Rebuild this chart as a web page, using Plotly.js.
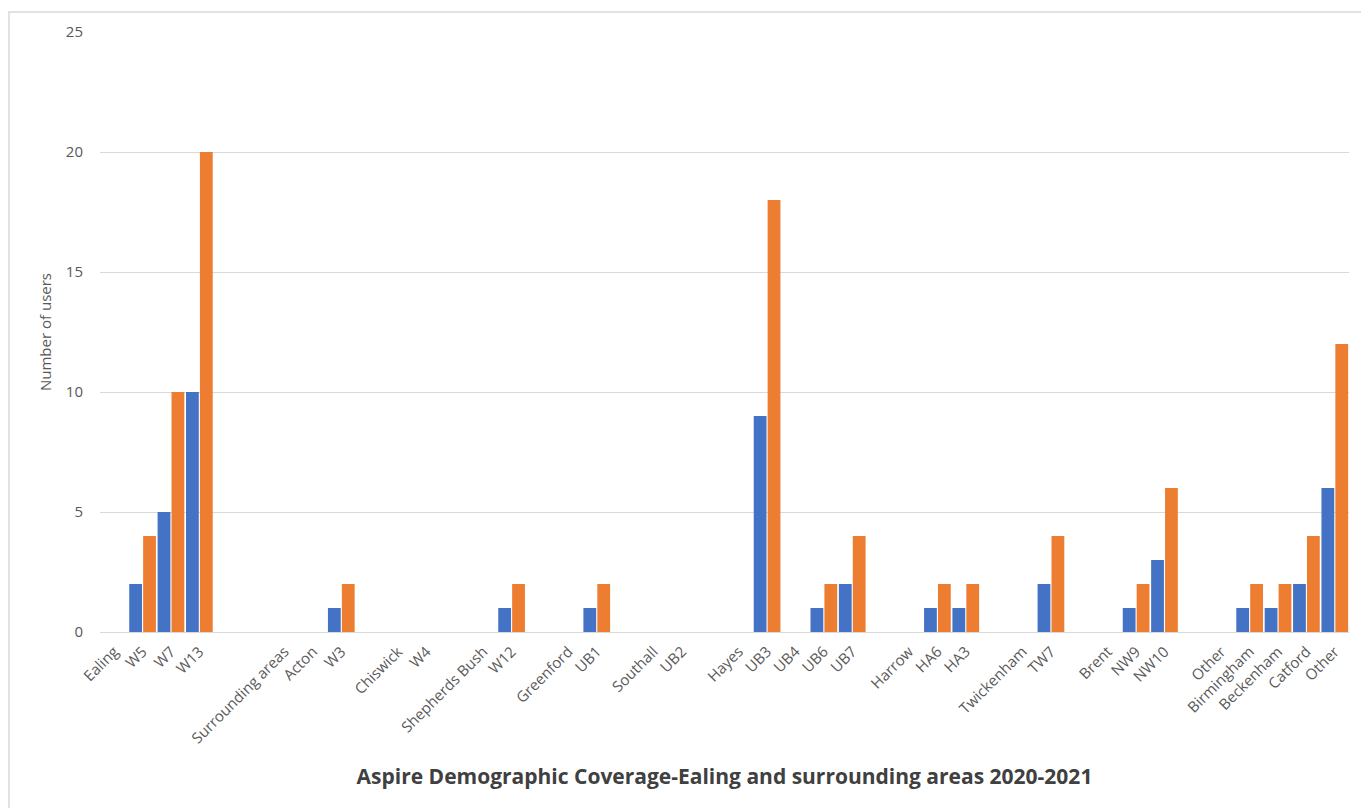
<!DOCTYPE html>
<html>
<head>
<meta charset="utf-8">
<script src="https://cdn.plot.ly/plotly-3.0.1.min.js"></script>
<style>
  html, body { margin: 0; padding: 0; background: #ffffff; }
  #chart { width: 1361px; height: 808px; }
</style>
</head>
<body>
<div id="chart"></div>
<script>
// Category labels (empty strings are blank rows in the source table)
const categories = [
  "Ealing", "W5", "W7", "W13", "", "",
  "Surrounding areas", "Acton", "W3", "",
  "Chiswick", "W4", "",
  "Shepherds Bush", "W12", "",
  "Greenford", "UB1", "",
  "Southall", "UB2", "",
  "Hayes", "UB3", "UB4", "UB6", "UB7", "",
  "Harrow", "HA6", "HA3", "",
  "Twickenham", "TW7", "",
  "Brent", "NW9", "NW10", "",
  "Other", "Birmingham", "Beckenham", "Catford", "Other"
];

// Series 1 (blue)
const series1 = [
  null, 2, 5, 10, null, null,
  null, 0, 1, null,
  0, 0, null,
  0, 1, null,
  0, 1, null,
  0, 0, null,
  0, 9, 0, 1, 2, null,
  0, 1, 1, null,
  0, 2, null,
  0, 1, 3, null,
  0, 1, 1, 2, 6
];

// Series 2 (orange)
const series2 = [
  null, 4, 10, 20, null, null,
  null, 0, 2, null,
  0, 0, null,
  0, 2, null,
  0, 2, null,
  0, 0, null,
  0, 18, 0, 2, 4, null,
  0, 2, 2, null,
  0, 4, null,
  0, 2, 6, null,
  0, 2, 2, 4, 12
];

const yTicks = [0, 5, 10, 15, 20, 25];

// unique keys so blank rows and the repeated "Other" stay separate categories
const keys = categories.map((c, i) => i + "|" + c);

const font = "'Open Sans', 'Liberation Sans', sans-serif";

const traces = [
  {
    type: "bar", name: "Series1", x: keys, y: series1,
    marker: { color: "#4472C4" }, hoverinfo: "y"
  },
  {
    type: "bar", name: "Series2", x: keys, y: series2,
    marker: { color: "#ED7D31" }, hoverinfo: "y"
  }
];

const layout = {
  width: 1361, height: 808,
  margin: { l: 100, r: 12, t: 32, b: 176 },
  paper_bgcolor: "#ffffff",
  plot_bgcolor: "#ffffff",
  showlegend: false,
  barmode: "group",
  bargap: 0.02,
  bargroupgap: 0.08,
  font: { family: font, color: "#595959", size: 15 },
  xaxis: {
    type: "category",
    categoryorder: "array",
    categoryarray: keys,
    tickvals: keys,
    ticktext: categories,
    tickangle: -45,
    ticks: "",
    ticklabelstandoff: 4,
    showgrid: false,
    showline: true,
    linecolor: "#d9d9d9",
    linewidth: 1,
    zeroline: false,
    automargin: false,
    tickfont: { family: font, size: 15, color: "#595959" },
    title: {
      text: "Aspire Demographic Coverage-Ealing and surrounding areas 2020-2021",
      font: { family: font, size: 21, color: "#404040", weight: "bold" },
      standoff: 22
    }
  },
  yaxis: {
    range: [0, 25],
    tickvals: yTicks,
    ticktext: yTicks.map(String),
    ticks: "",
    ticklabelstandoff: 16,
    showgrid: true,
    gridcolor: "#d9d9d9",
    gridwidth: 1,
    zeroline: false,
    showline: false,
    automargin: false,
    tickfont: { family: font, size: 15, color: "#595959" },
    title: {
      text: "Number of users",
      font: { family: font, size: 15, color: "#595959" },
      standoff: 10
    }
  },
  shapes: [
    {
      type: "rect", xref: "paper", yref: "paper",
      x0: -0.0729, x1: 1.02, y0: -0.30, y1: 1.0333,
      line: { color: "#d9d9d9", width: 1.5 },
      fillcolor: "rgba(0,0,0,0)",
      layer: "below"
    }
  ]
};

Plotly.newPlot("chart", traces, layout, { displayModeBar: false, staticPlot: true });
</script>
</body>
</html>
